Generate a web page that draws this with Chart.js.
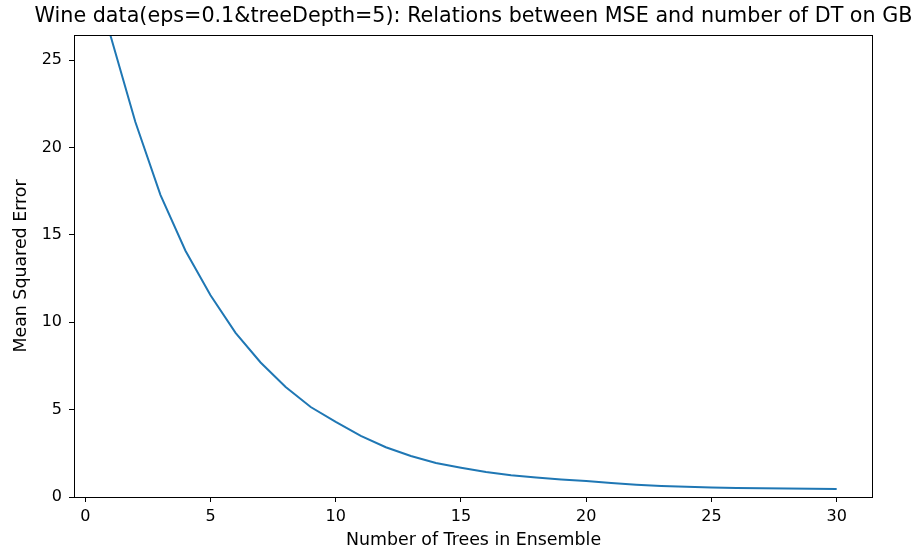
<!DOCTYPE html>
<html lang="en">
  <head>
    <meta charset="UTF-8" />
    <title>Wine data MSE</title>
    <script src="https://cdn.jsdelivr.net/npm/chart.js@4.4.0/dist/chart.umd.min.js"></script>
    <style>
      body { margin: 0; background: #fff; }
    </style>
  </head>
  <body>
    <canvas id="mseChart" width="920" height="555"></canvas>

    <script>
      // number of trees (x) and mean squared error (y)
      const trees = [1, 2, 3, 4, 5, 6, 7, 8, 9, 10, 11, 12, 13, 14, 15,
                     16, 17, 18, 19, 20, 21, 22, 23, 24, 25, 26, 27, 28, 29, 30];
      const mse = [26.45, 21.47, 17.3, 14.1, 11.55, 9.4, 7.7, 6.3, 5.15, 4.3,
                   3.5, 2.85, 2.35, 1.95, 1.68, 1.43, 1.25, 1.11, 1.0, 0.91,
                   0.8, 0.7, 0.63, 0.58, 0.55, 0.52, 0.5, 0.48, 0.47, 0.46];

      // tick labels
      const xTicks = [0, 5, 10, 15, 20, 25, 30];
      const yTicks = [0, 5, 10, 15, 20, 25];

      const titleText = "Wine data(eps=0.1&treeDepth=5): Relations between MSE and number of DT on GB";
      const fontFamily = "'DejaVu Sans', sans-serif";

      // frame round the plot + title centred over the plot area (like matplotlib)
      const framePlugin = {
        id: "frame",
        afterDraw(chart) {
          const { ctx, chartArea } = chart;
          ctx.save();
          ctx.strokeStyle = "#000";
          ctx.lineWidth = 1;
          ctx.strokeRect(chartArea.left + 0.5, chartArea.top + 0.5,
                         chartArea.right - chartArea.left - 1, chartArea.bottom - chartArea.top);
          ctx.fillStyle = "#000";
          ctx.font = "20.7px " + fontFamily;
          ctx.textAlign = "center";
          ctx.textBaseline = "alphabetic";
          ctx.fillText(titleText, (chartArea.left + chartArea.right) / 2, 22);
          ctx.restore();
        },
      };

      const ctx = document.getElementById("mseChart").getContext("2d");
      const mseChart = new Chart(ctx, {
        type: "line",
        data: {
          datasets: [
            {
              data: trees.map((t, i) => ({ x: t, y: mse[i] })),
              borderColor: "#1f77b4",
              borderWidth: 2,
              pointRadius: 0,
              tension: 0,
              fill: false,
            },
          ],
        },
        options: {
          responsive: false,
          animation: false,
          layout: { padding: { left: 0, right: 47, top: 35, bottom: 0 } },
          plugins: {
            legend: { display: false },
            tooltip: { enabled: false },
          },
          scales: {
            x: {
              type: "linear",
              min: -0.45,
              max: 31.45,
              afterBuildTicks: (scale) => {
                scale.ticks = xTicks.map((v) => ({ value: v }));
              },
              afterFit: (scale) => {
                scale.height = 58;
              },
              grid: {
                drawOnChartArea: false,
                drawTicks: true,
                tickLength: 5,
                color: "#000",
              },
              border: { display: false },
              ticks: {
                color: "#000",
                padding: 5,
                maxRotation: 0,
                font: { family: fontFamily, size: 16 },
              },
              title: {
                display: true,
                text: "Number of Trees in Ensemble",
                color: "#000",
                font: { family: fontFamily, size: 17.4 },
                padding: { top: 0, bottom: 4 },
              },
            },
            y: {
              type: "linear",
              min: 0,
              max: 26.45,
              afterBuildTicks: (scale) => {
                scale.ticks = yTicks.map((v) => ({ value: v }));
              },
              afterFit: (scale) => {
                scale.width = 74;
              },
              grid: {
                drawOnChartArea: false,
                drawTicks: true,
                tickLength: 5,
                color: "#000",
              },
              border: { display: false },
              ticks: {
                color: "#000",
                padding: 7,
                font: { family: fontFamily, size: 16 },
              },
              title: {
                display: true,
                text: "Mean Squared Error",
                color: "#000",
                font: { family: fontFamily, size: 17.4 },
                padding: { top: 11, bottom: 0 },
              },
            },
          },
        },
        plugins: [framePlugin],
      });
    </script>
  </body>
</html>
